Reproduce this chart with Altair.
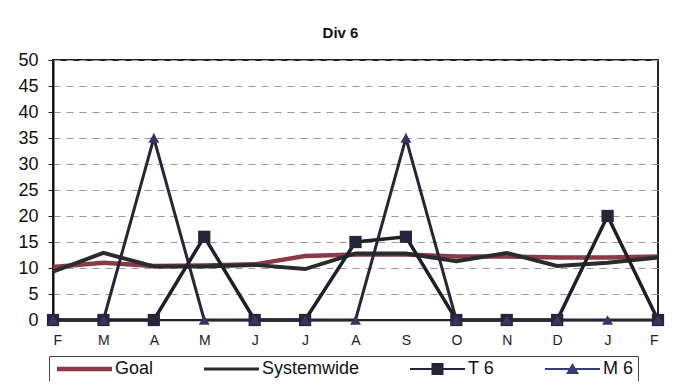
import altair as alt
import pandas as pd

months = ["F", "M", "A", "M", "J", "J", "A", "S", "O", "N", "D", "J", "F"]
series_names = ["Goal", "Systemwide", "T 6", "M 6"]
goal = [10.2, 11.0, 10.4, 10.5, 10.7, 12.3, 12.6, 12.6, 12.2, 12.2, 12.0, 12.0, 12.2]
systemwide = [9.3, 12.9, 10.3, 10.3, 10.6, 9.8, 12.8, 12.8, 11.3, 12.9, 10.4, 11.0, 12.0]
t6 = [0, 0, 0, 16, 0, 0, 15, 16, 0, 0, 0, 20, 0]
m6 = [0, 0, 35, 0, 0, 0, 0, 35, 0, 0, 0, 0, 0]
y_ticks = [0, 5, 10, 15, 20, 25, 30, 35, 40, 45, 50]

line_colors = ["#8a3a48", "#2b2b2b", "#1f1f2a", "#262636"]
line_widths = [4.5, 3, 2, 2]

rows = []
for name, vals in zip(series_names, [goal, systemwide, t6, m6]):
    for i, v in enumerate(vals):
        rows.append({"idx": i, "value": v, "series": name, "order": series_names.index(name)})
df = pd.DataFrame(rows)
legend_df = pd.DataFrame({"series": series_names})

label_expr = "[" + ",".join("'%s'" % m for m in months) + "][datum.value]"

x_enc = alt.X("idx:Q", scale=alt.Scale(domain=[0, len(months) - 1], nice=False),
              axis=alt.Axis(values=list(range(len(months))), labelExpr=label_expr, title=None,
                            grid=False, ticks=False, labelFontSize=14, labelPadding=13,
                            labelColor="#222", domainColor="#222", domainWidth=1.5))
y_enc = alt.Y("value:Q", scale=alt.Scale(domain=[0, 50], nice=False),
              axis=alt.Axis(values=y_ticks, title=None, labelFontSize=18, labelColor="#111",
                            labelPadding=10, tickSize=5, tickColor="#222", domainColor="#111",
                            domainWidth=2, grid=True, gridColor="#9a9a9a", gridDash=[7, 6],
                            gridWidth=1))

lines = alt.Chart(df).mark_line().encode(
    x=x_enc, y=y_enc,
    color=alt.Color("series:N", scale=alt.Scale(domain=series_names, range=line_colors), legend=None),
    strokeWidth=alt.StrokeWidth("series:N", scale=alt.Scale(domain=series_names, range=line_widths), legend=None),
    detail="series:N",
    order="order:Q",
)

pts_df_filter = alt.FieldOneOfPredicate(field="series", oneOf=["T 6", "M 6"])
points = alt.Chart(df).transform_filter(pts_df_filter).mark_point(filled=True, opacity=1).encode(
    x=x_enc, y=y_enc,
    shape=alt.Shape("series:N", scale=alt.Scale(domain=["T 6", "M 6"], range=["square", "triangle-up"]), legend=None),
    color=alt.Color("series:N", scale=alt.Scale(domain=["T 6", "M 6"], range=["#26263a", "#35355e"]), legend=None),
    size=alt.Size("series:N", scale=alt.Scale(domain=["T 6", "M 6"], range=[150, 120]), legend=None),
)

# symbolSize 100 -> path unit = 5px; paths run from x=-1 to x=10 (55px wide)
legend_paths = [
    "M-1,-0.45H10V0.45H-1Z",
    "M-1,-0.3H10V0.3H-1Z",
    "M-1,-0.22H10V0.22H-1Z M3.3,-1.2H5.7V1.2H3.3Z",
    "M-1,-0.22H10V0.22H-1Z M3.2,1.0L4.5,-1.2L5.8,1.0Z",
]
legend_colors = ["#8a3a48", "#2b2b2b", "#26263a", "#3a3a78"]

leg = alt.Legend(title=None, orient="none", legendX=-4, legendY=296,
                 direction="horizontal", columns=4, symbolSize=100,
                 symbolStrokeWidth=0, labelFontSize=18, labelColor="#111",
                 labelOffset=44, columnPadding=46, padding=4,
                 strokeColor="#444", fillColor="white")

legend_layer = alt.Chart(legend_df).mark_point(filled=True, clip=True, opacity=1).encode(
    x=alt.value(-300), y=alt.value(-300),
    shape=alt.Shape("series:N", scale=alt.Scale(domain=series_names, range=legend_paths), legend=leg),
    color=alt.Color("series:N", scale=alt.Scale(domain=series_names, range=legend_colors), legend=leg),
)

chart = alt.layer(lines, points, legend_layer).resolve_scale(
    color="independent", shape="independent"
).properties(
    width=605, height=260,
    title=alt.TitleParams("Div 6", fontSize=15, fontWeight="bold", color="#111", offset=10, dx=-15),
    autosize=alt.AutoSizeParams(type="none"),
    padding={"left": 45, "top": 52, "right": 10, "bottom": 61},
).configure(font="Liberation Sans").configure_view(stroke="#222", strokeWidth=2)

chart.save("out.html", embed_options={"renderer": "svg", "actions": False})
